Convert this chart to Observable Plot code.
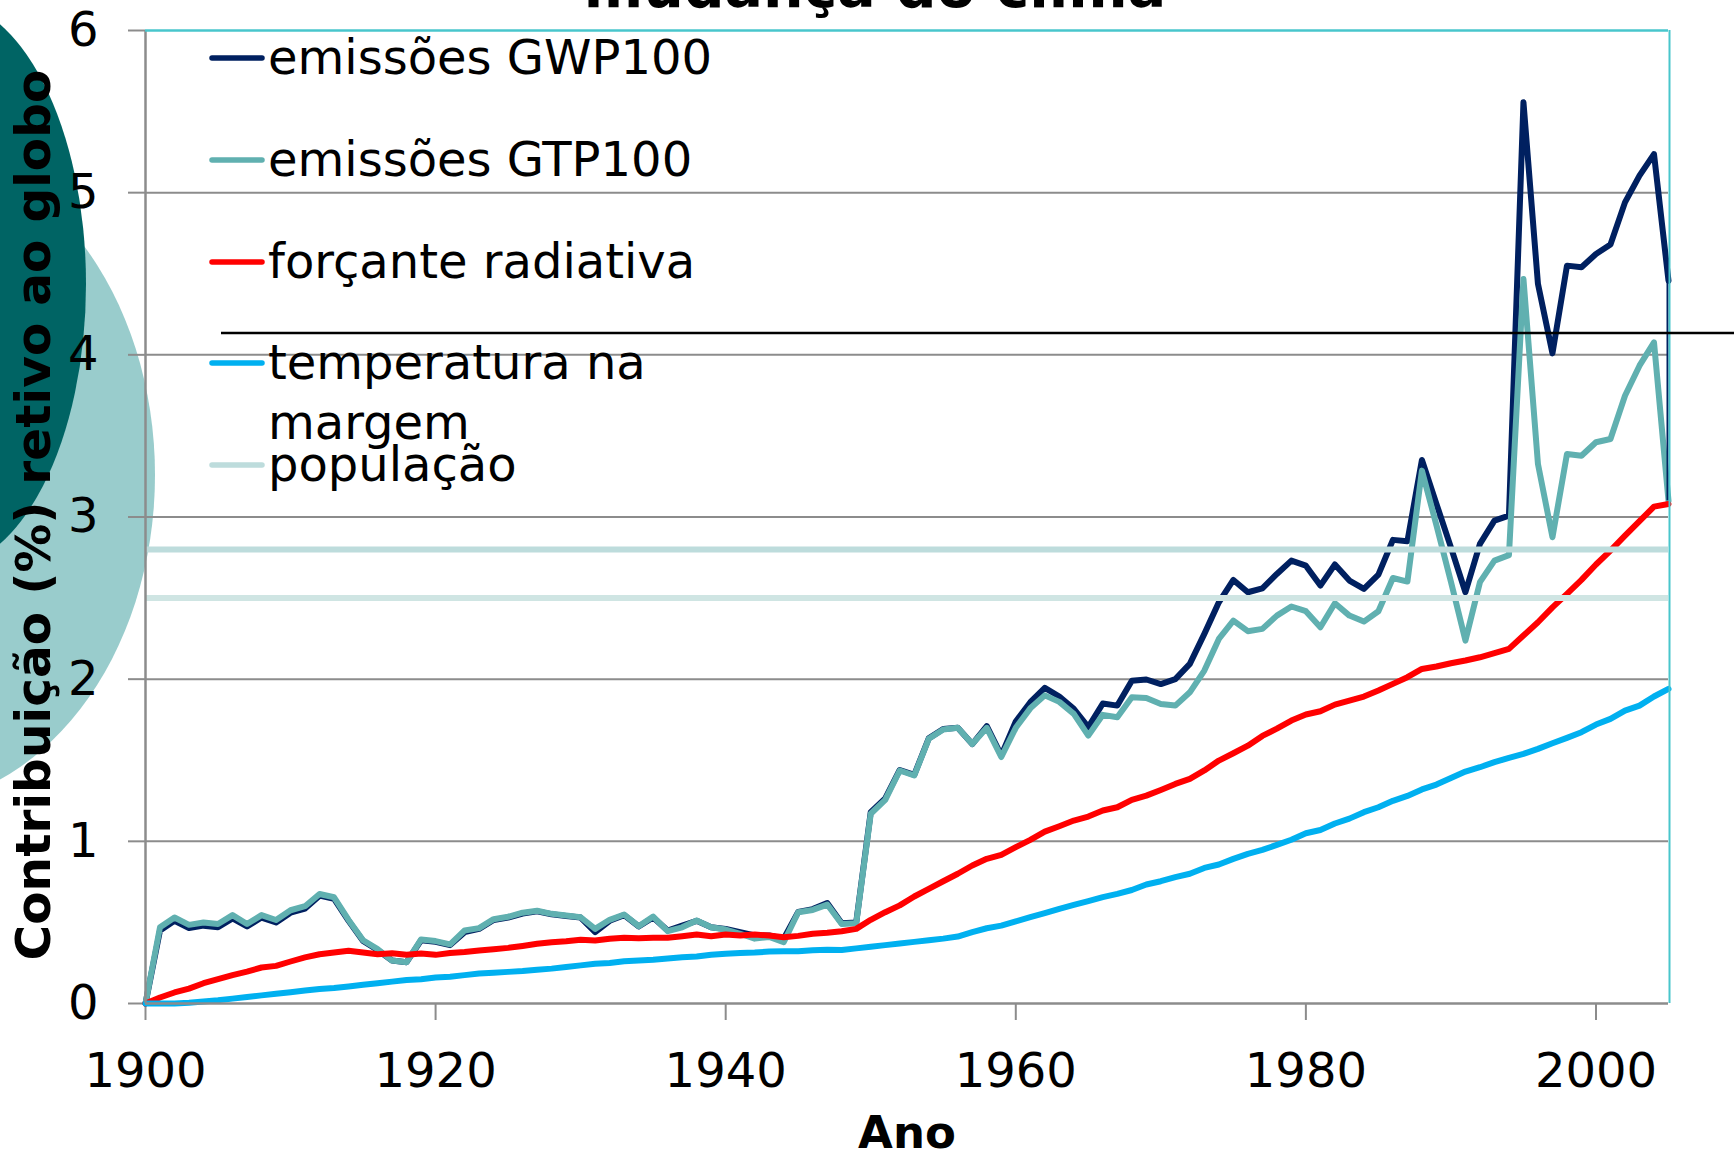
<!DOCTYPE html>
<html><head><meta charset="utf-8">
<script src="https://cdn.jsdelivr.net/npm/d3@7"></script>
<script src="https://cdn.jsdelivr.net/npm/@observablehq/plot@0.6"></script>
<style>
html,body{margin:0;padding:0;background:#fff;}
#wrap{position:relative;width:1734px;height:1155px;overflow:hidden;background:#fff;font-family:"DejaVu Sans",Verdana,sans-serif;}
#wrap svg{position:absolute;left:0;top:0;}
</style></head><body><div id="wrap"></div>
<script>
// ---------- data ----------
const anos = d3.range(1900, 2006);
const xTicks = [1900, 1920, 1940, 1960, 1980, 2000];
const yTicks = [0, 1, 2, 3, 4, 5, 6];
const gridVals = [1, 2, 3, 4, 5];

const emissoesGWP100 = [
  0, 0.45, 0.51, 0.465, 0.48, 0.47, 0.525, 0.475, 0.53, 0.50,
  0.56, 0.585, 0.665, 0.645, 0.51, 0.385, 0.33, 0.265, 0.255, 0.39,
  0.38, 0.36, 0.44, 0.46, 0.515, 0.53, 0.555, 0.568, 0.55, 0.54,
  0.53, 0.44, 0.51, 0.545, 0.475, 0.53, 0.45, 0.48, 0.51, 0.47,
  0.46, 0.44, 0.42, 0.42, 0.40, 0.565, 0.582, 0.62, 0.495, 0.50,
  1.18, 1.265, 1.44, 1.41, 1.635, 1.693, 1.70, 1.60, 1.71, 1.53,
  1.739, 1.858, 1.946, 1.893, 1.817, 1.704, 1.85, 1.837, 1.99, 1.998,
  1.97, 2.0, 2.094, 2.279, 2.474, 2.612, 2.536, 2.56, 2.649, 2.731,
  2.70, 2.577, 2.707, 2.608, 2.557, 2.645, 2.859, 2.85, 3.352, 3.081,
  2.813, 2.536, 2.834, 2.978, 3.009, 5.557, 4.437, 4.009, 4.55, 4.54,
  4.622, 4.68, 4.94, 5.105, 5.238, 4.457
];
const emissoesGTP100 = [
  0, 0.47, 0.53, 0.485, 0.50, 0.49, 0.545, 0.49, 0.545, 0.515,
  0.575, 0.60, 0.675, 0.655, 0.515, 0.39, 0.335, 0.265, 0.255, 0.395,
  0.385, 0.365, 0.45, 0.465, 0.52, 0.535, 0.56, 0.572, 0.553, 0.543,
  0.532, 0.46, 0.516, 0.549, 0.477, 0.536, 0.446, 0.47, 0.512, 0.47,
  0.456, 0.43, 0.40, 0.41, 0.378, 0.563, 0.577, 0.61, 0.49, 0.495,
  1.17, 1.256, 1.437, 1.406, 1.632, 1.69, 1.70, 1.60, 1.70, 1.52,
  1.70, 1.82, 1.90, 1.86, 1.786, 1.652, 1.78, 1.765, 1.889, 1.884,
  1.847, 1.837, 1.919, 2.053, 2.248, 2.361, 2.296, 2.31, 2.392, 2.448,
  2.419, 2.32, 2.468, 2.392, 2.355, 2.419, 2.624, 2.602, 3.286, 2.95,
  2.60, 2.238, 2.598, 2.731, 2.765, 4.468, 3.327, 2.875, 3.389, 3.378,
  3.461, 3.481, 3.748, 3.933, 4.077, 3.10
];
const forcanteRadiativa = [
  0, 0.037, 0.068, 0.092, 0.125, 0.15, 0.175, 0.197, 0.222, 0.232,
  0.259, 0.284, 0.304, 0.314, 0.325, 0.314, 0.304, 0.31, 0.30, 0.308,
  0.30, 0.312, 0.318, 0.327, 0.335, 0.343, 0.355, 0.368, 0.378, 0.384,
  0.393, 0.388, 0.399, 0.405, 0.403, 0.405, 0.405, 0.415, 0.425, 0.415,
  0.425, 0.419, 0.425, 0.419, 0.409, 0.417, 0.43, 0.436, 0.446, 0.46,
  0.516, 0.563, 0.605, 0.66, 0.707, 0.754, 0.80, 0.851, 0.892, 0.917,
  0.964, 1.009, 1.06, 1.093, 1.128, 1.153, 1.19, 1.21, 1.256, 1.282,
  1.317, 1.354, 1.385, 1.437, 1.498, 1.543, 1.59, 1.65, 1.695, 1.745,
  1.782, 1.802, 1.843, 1.868, 1.893, 1.93, 1.971, 2.012, 2.063, 2.078,
  2.098, 2.115, 2.135, 2.16, 2.187, 2.269, 2.351, 2.443, 2.526, 2.612,
  2.707, 2.793, 2.885, 2.974, 3.064, 3.08
];
const temperaturaNaMargem = [
  0, 0, 0, 0.005, 0.012, 0.02, 0.03, 0.04, 0.05, 0.06,
  0.07, 0.08, 0.09, 0.095, 0.105, 0.115, 0.125, 0.135, 0.145, 0.15,
  0.16, 0.165, 0.175, 0.185, 0.19, 0.195, 0.20, 0.208, 0.215, 0.225,
  0.235, 0.245, 0.25, 0.26, 0.265, 0.27, 0.278, 0.285, 0.29, 0.30,
  0.307, 0.312, 0.315, 0.32, 0.322, 0.322, 0.328, 0.332, 0.33, 0.34,
  0.35, 0.36, 0.37, 0.38, 0.39, 0.40, 0.413, 0.44, 0.464, 0.48,
  0.506, 0.532, 0.557, 0.584, 0.608, 0.631, 0.656, 0.676, 0.70, 0.734,
  0.754, 0.779, 0.80, 0.836, 0.857, 0.892, 0.923, 0.947, 0.978, 1.01,
  1.05, 1.07, 1.11, 1.14, 1.18, 1.21, 1.25, 1.28, 1.32, 1.35,
  1.39, 1.43, 1.457, 1.488, 1.515, 1.539, 1.57, 1.605, 1.638, 1.673,
  1.72, 1.755, 1.806, 1.837, 1.893, 1.94
];
const populacao = [2.8];
const populacaoB = [2.5];

const legendaRotulos = ["emissões GWP100", "emissões GTP100", "forçante radiativa", "temperatura na\nmargem", "população"];
const cores = ["#002060", "#60B0B0", "#FF0000", "#00B0F0", "#BDDCDC"];
const corPopB = "#CFE5E3";

const toRows = vals => anos.map((a, i) => ({ano: a, valor: vals[i]}));

// ---------- layout ----------
const W = 1734, H = 1155;
const wrap = d3.select("#wrap");

// decorative ellipses behind
const bg = wrap.append("svg").attr("width", W).attr("height", H);
bg.append("ellipse").attr("cx", -100).attr("cy", 475).attr("rx", 255).attr("ry", 331).attr("fill", "#99CCCC");
bg.append("ellipse").attr("cx", -60).attr("cy", 284).attr("rx", 146).attr("ry", 285).attr("fill", "#006464");

const gray = "#8c8c8c";
const cyan = "#48C6CC";
const lineOpts = {strokeWidth: 6, strokeLinejoin: "round", strokeLinecap: "round"};

const chart = Plot.plot({
  width: W, height: H,
  marginLeft: 145, marginRight: 66, marginTop: 30, marginBottom: 152,
  style: {background: "transparent", fontFamily: "DejaVu Sans, Verdana, sans-serif", overflow: "visible"},
  x: {domain: [1900, 2005]},
  y: {domain: [0, 6]},
  marks: [
    Plot.gridY(gridVals, {stroke: gray, strokeOpacity: 1, strokeWidth: 2}),
    Plot.axisX(xTicks, {tickSize: 17, tickPadding: 32, tickFormat: d => String(d), fontSize: 48, stroke: gray, strokeWidth: 2, fill: "#000", label: null}),
    Plot.axisY(yTicks, {tickSize: 17, tickPadding: 30, tickFormat: d => String(d), fontSize: 48, stroke: gray, strokeWidth: 2, fill: "#000", label: null}),
    Plot.lineY(toRows(emissoesGWP100), {x: "ano", y: "valor", stroke: cores[0], ...lineOpts}),
    Plot.lineY(toRows(emissoesGTP100), {x: "ano", y: "valor", stroke: cores[1], ...lineOpts}),
    Plot.lineY(toRows(forcanteRadiativa), {x: "ano", y: "valor", stroke: cores[2], ...lineOpts}),
    Plot.lineY(toRows(temperaturaNaMargem), {x: "ano", y: "valor", stroke: cores[3], ...lineOpts}),
    Plot.ruleY(populacao, {stroke: cores[4], strokeWidth: 6}),
    Plot.ruleY(populacaoB, {stroke: corPopB, strokeWidth: 6}),
    Plot.ruleX([anos[anos.length - 1]], {y1: emissoesGTP100[emissoesGTP100.length - 1], y2: emissoesGWP100[emissoesGWP100.length - 1], stroke: cores[0], strokeWidth: 2, dx: -1}),
    Plot.ruleX([1900], {stroke: gray, strokeWidth: 2.5}),
    Plot.ruleY([0], {stroke: gray, strokeWidth: 2.5}),
    Plot.ruleY([6], {stroke: cyan, strokeWidth: 2.5}),
    Plot.ruleX([2005], {stroke: cyan, strokeWidth: 2, dx: 1})
  ]
});
wrap.node().appendChild(chart);

// overlay: title, legend, axis titles, decorative line
const ov = wrap.append("svg").attr("width", W).attr("height", H).style("pointer-events", "none")
  .attr("font-family", "DejaVu Sans, Verdana, sans-serif");

ov.append("text").attr("x", 875).attr("y", 7).attr("text-anchor", "middle")
  .attr("font-size", 57).attr("font-weight", "bold").text("mudança do clima");

ov.append("line").attr("x1", 221).attr("x2", W).attr("y1", 333).attr("y2", 333)
  .attr("stroke", "#000").attr("stroke-width", 2.5);

const legY = [58, 160, 262, 363, 465];
legendaRotulos.forEach((lab, i) => {
  ov.append("line").attr("x1", 212).attr("x2", 262).attr("y1", legY[i]).attr("y2", legY[i])
    .attr("stroke", cores[i]).attr("stroke-width", 5.5).attr("stroke-linecap", "round");
  const t = ov.append("text").attr("x", 268).attr("y", legY[i] + 16).attr("font-size", 48).attr("fill", "#000");
  lab.split("\n").forEach((ln, j) => {
    t.append("tspan").attr("x", 268).attr("dy", j === 0 ? 0 : 60).text(ln);
  });
});

ov.append("text").attr("transform", "translate(50,515) rotate(-90)").attr("text-anchor", "middle")
  .attr("font-size", 48).attr("font-weight", "bold").attr("textLength", 891).attr("lengthAdjust", "spacingAndGlyphs")
  .text("Contribuição (%) retivo ao globo");

ov.append("text").attr("x", 907).attr("y", 1148).attr("text-anchor", "middle")
  .attr("font-size", 45).attr("font-weight", "bold").text("Ano");
</script></body></html>
